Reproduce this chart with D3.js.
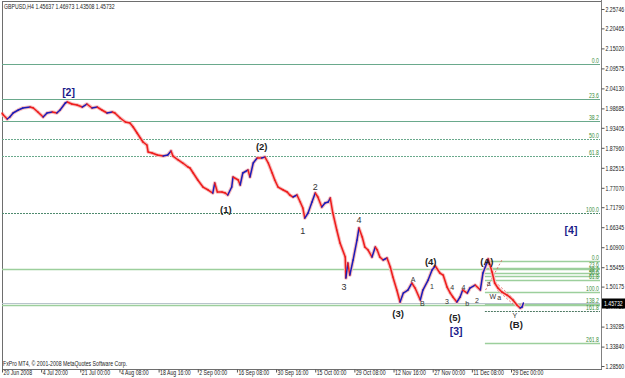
<!DOCTYPE html>
<html lang="en">
<head>
<meta charset="UTF-8" />
<script src="https://d3js.org/d3.v7.min.js"></script>
<title>GBPUSD H4</title>
<style>
  body { margin: 0; background: #fff; }
  svg { display: block; }
</style>
</head>
<body>
<script>
const width = 625;
const height = 378;

// price series (H4 bar number, close)
const bars = [0,2,8,12,17,25,32,43,48,55,63,69,77,84,89,97,100,107,115,123,130,138,146,153,161,169,173,181,189,196,201,207,212,216,222,224,230,238,247,254,259,262,270,277,285,288,293,300,308,316,323,326,330,337,342,346,352,354,362,365,369,377,380,385,391,398,403,408,414,418,423,431,437,441,446,452,457,461,464,469,475,480,484,490,495,500,503,507,513,518,526,527,530,533,538,544,547,552,556,561,567,572,575,579,584,590,595,599,605,610,615,622,628,633,641,645,653,659,664,671,676,682,687,691,697,702,706,713,717,725,733,737,743,745,751,755,760,766,774,778,783,789,794,797,799];
const closes = [1.9743,1.9689,1.9580,1.9634,1.9743,1.9825,1.9879,1.9906,1.9879,1.9770,1.9634,1.9743,1.9770,1.9743,1.9825,2.0015,2.0043,1.9988,1.9961,1.9906,1.9988,1.9879,1.9906,1.9825,1.9743,1.9770,1.9743,1.9607,1.9498,1.9471,1.9362,1.9199,1.9062,1.8954,1.8872,1.8681,1.8654,1.8600,1.8572,1.8600,1.8709,1.8572,1.8464,1.8382,1.8273,1.8246,1.8110,1.7919,1.7728,1.7647,1.7565,1.7837,1.7592,1.7592,1.7565,1.7511,1.7728,1.8001,1.7919,1.7783,1.8110,1.8191,1.8001,1.8382,1.8518,1.8518,1.8545,1.8382,1.8110,1.7919,1.7728,1.7647,1.7592,1.7511,1.7456,1.7511,1.7320,1.7157,1.6884,1.7021,1.7320,1.7565,1.7456,1.7184,1.7293,1.7320,1.7429,1.7021,1.6558,1.6204,1.5823,1.5251,1.5659,1.5332,1.5741,1.6285,1.6612,1.6367,1.6095,1.6013,1.5823,1.6095,1.6013,1.5823,1.5741,1.5795,1.5550,1.5278,1.4924,1.4597,1.4842,1.4924,1.5115,1.4978,1.4652,1.4924,1.5196,1.5469,1.5578,1.5387,1.5332,1.5006,1.4842,1.4734,1.4597,1.4734,1.4924,1.4842,1.4978,1.5060,1.4924,1.5387,1.5659,1.5768,1.5414,1.5115,1.4978,1.4870,1.4788,1.4734,1.4652,1.4516,1.4434,1.4461,1.4573];

const priceTicks = [2.25746,2.20465,2.15020,2.09575,2.04130,1.98685,1.93405,1.87960,1.82515,1.77070,1.71790,1.66345,1.60900,1.55455,1.50175,1.44730,1.39285,1.33840,1.28560];
const dateTickBars = [0,60,120,180,240,300,360,420,480,540,600,660,720,780];
const dateLabels = ["20 Jun 2008","4 Jul 20:00","21 Jul 00:00","4 Aug 08:00","18 Aug 16:00","2 Sep 00:00","16 Sep 08:00","30 Sep 16:00","15 Oct 00:00","29 Oct 08:00","12 Nov 16:00","27 Nov 00:00","11 Dec 08:00","29 Dec 00:00"];

// fibonacci retracements: [price at 0.0, price at 100.0]
const bigFib = [2.1077, 1.7021];
const bigFibLevels = [0, 23.6, 38.2, 50, 61.8, 100];
const smallFib = [1.5722, 1.4870];
const smallFibLevels = [0, 23.6, 38.2, 50, 61.8, 100, 138.2, 161.8, 261.8];
const smallFibStartBar = 740;
const hLines = [1.5496, 1.4516];
const lastPrice = 1.45732;

// wave labels: [text, bar, price, kind]
const waveLabels = [
  ["[2]", 102, 2.0206, "major"],
  ["(1)", 343, 1.7021, "inter"],
  ["(2)", 398, 1.8736, "inter"],
  ["1", 461, 1.6449, "minor"],
  ["2", 480, 1.7647, "minor"],
  ["3", 524, 1.4924, "minor"],
  ["4", 547, 1.6748, "minor"],
  ["(3)", 607, 1.4189, "inter"],
  ["A", 630, 1.5142, "tiny"],
  ["B", 644, 1.4489, "tiny"],
  ["(4)", 657, 1.5605, "inter"],
  ["1", 659, 1.4951, "tiny"],
  ["3", 682, 1.4543, "tiny"],
  ["4", 690, 1.4924, "tiny"],
  ["4", 707, 1.4924, "tiny"],
  ["b", 713, 1.4489, "tiny"],
  ["2", 728, 1.4570, "tiny"],
  ["(5)", 694, 1.4080, "inter"],
  ["[3]", 696, 1.3699, "major"],
  ["(A)", 743, 1.5605, "inter"],
  ["a", 746, 1.5033, "tiny"],
  ["W", 752, 1.4679, "tiny"],
  ["a", 762, 1.4652, "tiny"],
  ["Y", 786, 1.4162, "tiny"],
  ["(B)", 788, 1.3890, "inter"],
  ["[4]", 872, 1.6449, "major"]
];

// red helper lines near (A)-(B): [bar1, price1, bar2, price2]
const helperLines = [
  [741, 1.4924, 766, 1.5741],
  [756, 1.5142, 786, 1.4652],
  [759, 1.4924, 783, 1.4543]
];

const svg = d3.select("body").append("svg")
  .attr("width", width).attr("height", height);

const plotLeft = 2, plotRight = 601, plotTop = 1, plotBottom = 369;
const smallFont = "Liberation Sans, Arial, sans-serif";

const xScale = d3.scaleLinear().domain([0, 780]).range([2, 511]);
const yScale = d3.scaleLinear().domain([1.28560, 2.25746]).range([366, 9]);

// MT4 uses a narrow pixel font, squeeze the small texts a bit
function condense(sel, factor) {
  sel.each(function () {
    const len = this.getComputedTextLength();
    d3.select(this).attr("textLength", len * factor).attr("lengthAdjust", "spacingAndGlyphs");
  });
}

// frame
svg.append("rect").attr("x", plotLeft + 0.5).attr("y", plotTop + 0.5)
  .attr("width", plotRight - plotLeft).attr("height", plotBottom - plotTop)
  .attr("fill", "#fff").attr("stroke", "#6e6e6e").attr("stroke-width", 1);

const fibColor = "#6aa98c";
const fibText = "#3d8f3d";

function fibPrice(fib, lvl) {
  return fib[0] + (fib[1] - fib[0]) * lvl / 100;
}

// big fibonacci
bigFibLevels.forEach(lvl => {
  const y = Math.round(yScale(fibPrice(bigFib, lvl))) + 0.5;
  svg.append("line")
    .attr("x1", plotLeft).attr("x2", plotRight - 1).attr("y1", y).attr("y2", y)
    .attr("stroke", lvl == 100 ? "#4f8a6e" : fibColor)
    .attr("stroke-width", 1.2)
    .attr("stroke-dasharray", (lvl == 50 || lvl == 61.8 || lvl == 100) ? "2 1" : null);
  svg.append("text").attr("class", "small").attr("x", 599).attr("y", y - 1.5)
    .attr("text-anchor", "end").attr("fill", fibText)
    .text(lvl.toFixed(1));
});

// horizontal lines across the chart
hLines.forEach(p => {
  const y = Math.round(yScale(p)) + 0.5;
  svg.append("line")
    .attr("x1", plotLeft).attr("x2", plotRight - 1).attr("y1", y).attr("y2", y)
    .attr("stroke", "#9ccf9c").attr("stroke-width", 1.5);
});

// small fibonacci
smallFibLevels.forEach(lvl => {
  const y = Math.round(yScale(fibPrice(smallFib, lvl))) + 0.5;
  svg.append("line")
    .attr("x1", xScale(smallFibStartBar)).attr("x2", plotRight - 1).attr("y1", y).attr("y2", y)
    .attr("stroke", lvl == 161.8 ? "#4f7a64" : "#9ccf9c")
    .attr("stroke-width", lvl == 161.8 ? 1 : 1.5)
    .attr("stroke-dasharray", lvl == 161.8 ? "2 1" : null);
  svg.append("text").attr("class", "small").attr("x", 599).attr("y", y - 1.2)
    .attr("text-anchor", "end").attr("fill", fibText)
    .text(lvl.toFixed(1));
});

// bid line
const bidY = Math.round(yScale(lastPrice)) + 0.5;
svg.append("line").attr("x1", plotLeft).attr("x2", plotRight - 1)
  .attr("y1", bidY).attr("y2", bidY)
  .attr("stroke", "#b8c4cc").attr("stroke-width", 1);

// helper lines
helperLines.forEach(l => {
  svg.append("line")
    .attr("x1", xScale(l[0])).attr("y1", yScale(l[1]))
    .attr("x2", xScale(l[2])).attr("y2", yScale(l[3]))
    .attr("stroke", "#e05050").attr("stroke-width", 0.8)
    .attr("stroke-dasharray", "2 2");
});

// price series
const pts = bars.map((b, i) => [xScale(b), yScale(closes[i])]);
svg.append("path")
  .attr("d", d3.line()(pts))
  .attr("fill", "none").attr("stroke", "#f7bcbc")
  .attr("stroke-width", 3.6).attr("stroke-linejoin", "round");

for (let i = 1; i < pts.length; i++) {
  const up = closes[i] > closes[i - 1];
  svg.append("line")
    .attr("x1", pts[i - 1][0]).attr("y1", pts[i - 1][1])
    .attr("x2", pts[i][0]).attr("y2", pts[i][1])
    .attr("stroke", up ? "#1c1cb8" : "#ee1c1c")
    .attr("stroke-width", 1.5).attr("stroke-linecap", "round");
}

// wave labels
const labelStyle = {
  major: { size: 10.5, weight: "bold", fill: "#1b1b8a" },
  inter: { size: 9.5, weight: "bold", fill: "#222" },
  minor: { size: 9, weight: "normal", fill: "#333" },
  tiny: { size: 7, weight: "normal", fill: "#333" }
};
waveLabels.forEach(w => {
  const s = labelStyle[w[3]];
  svg.append("text")
    .attr("x", xScale(w[1])).attr("y", yScale(w[2]))
    .attr("text-anchor", "middle")
    .attr("font-family", "Liberation Sans, Arial, sans-serif")
    .attr("font-size", s.size).attr("font-weight", s.weight)
    .attr("fill", s.fill).text(w[0]);
});

// price axis
const yAxis = d3.axisRight(yScale).tickValues(priceTicks)
  .tickFormat(d3.format(".5f")).tickSize(3).tickPadding(1);
const ga = svg.append("g").attr("transform", `translate(${plotRight + 0.5},0)`).call(yAxis);
ga.select(".domain").attr("stroke", "#808080").attr("d", `M0,0V${plotBottom}`);
ga.selectAll(".tick line").attr("stroke", "#555");
ga.selectAll(".tick text").attr("class", "small").attr("fill", "#222");

// current price box
svg.append("rect").attr("x", plotRight + 1).attr("y", bidY - 5)
  .attr("width", width - plotRight - 1).attr("height", 10).attr("fill", "#000");
svg.append("text").attr("class", "small").attr("x", plotRight + 3).attr("y", bidY + 2.5)
  .attr("fill", "#fff").text(lastPrice.toFixed(5));

// date axis
const xAxis = d3.axisBottom(xScale).tickValues(dateTickBars)
  .tickFormat((d, i) => dateLabels[i]).tickSize(3);
const gx = svg.append("g").attr("transform", `translate(0,${plotBottom + 0.5})`).call(xAxis);
gx.select(".domain").remove();
gx.selectAll(".tick line").attr("stroke", "#555");
gx.selectAll(".tick text").attr("class", "small").attr("text-anchor", "start")
  .attr("dx", 1).attr("y", 1).attr("fill", "#222");

// header and footer
svg.append("text").attr("class", "small").attr("x", 4).attr("y", 9).attr("fill", "#222")
  .text("GBPUSD,H4  1.45637 1.46973 1.43508 1.45732");
svg.append("text").attr("class", "small").attr("x", 3).attr("y", 366).attr("fill", "#222")
  .text("FxPro MT4, \u00a9 2001-2008 MetaQuotes Software Corp.");

const small = svg.selectAll("text.small")
  .attr("font-family", smallFont).attr("font-size", 7);
condense(small, 0.74);
</script>
</body>
</html>
